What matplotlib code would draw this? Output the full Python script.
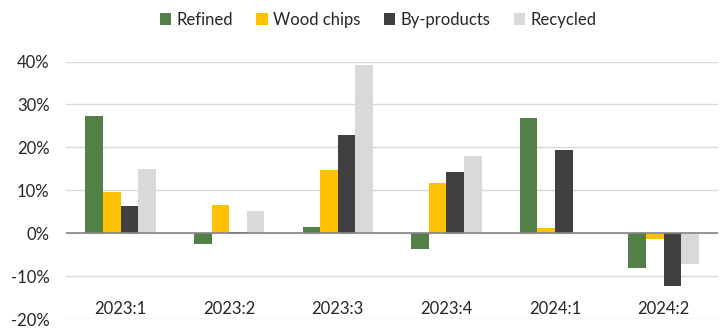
import matplotlib.pyplot as plt
import numpy as np
from matplotlib.ticker import PercentFormatter

plt.rcParams["font.family"] = ["Lato", "DejaVu Sans"]
plt.rcParams["axes.unicode_minus"] = False

quarters = ["2023:1", "2023:2", "2023:3", "2023:4", "2024:1", "2024:2"]
series_names = ["Refined", "Wood chips", "By-products", "Recycled"]

refined = [27.4, -2.6, 1.5, -3.7, 26.8, -8.0]
wood_chips = [9.5, 6.6, 14.8, 11.6, 1.2, -1.4]
by_products = [6.3, 0.4, 22.9, 14.3, 19.5, -12.3]
recycled = [15.0, 5.2, 39.1, 17.9, 0.0, -7.2]

colors = ["#538046", "#FFC000", "#404040", "#D9D9D9"]

fig = plt.figure(figsize=(7.2, 3.29), dpi=100)
ax = fig.add_axes([0.092, 0.03, 0.905, 0.783])

x = np.arange(len(quarters))
width = 0.162
all_series = [refined, wood_chips, by_products, recycled]
for i, (name, vals, col) in enumerate(zip(series_names, all_series, colors)):
    offset = (i - 1.5) * width
    ax.bar(x + offset, vals, width, color=col, label=name, zorder=3)

ax.set_ylim(-20, 40)
ax.set_xlim(-0.5, len(quarters) - 0.5)
ax.set_yticks(range(-20, 41, 10))
ax.yaxis.set_major_formatter(PercentFormatter(decimals=0))
ax.grid(axis="y", color="#D9D9D9", linewidth=1, zorder=0)
ax.axhline(0, color="#868686", linewidth=1.2, zorder=4)

for side in ["top", "right", "bottom", "left"]:
    ax.spines[side].set_visible(False)
ax.tick_params(axis="y", length=0, labelsize=12, colors="#262626", pad=12)
ax.set_xticks([])

# quarter labels rest on the bottom gridline
for xi, q in zip(x, quarters):
    ax.text(xi, -19.6, q, ha="center", va="bottom", fontsize=12, color="#262626")

fig.legend(
    loc="center",
    bbox_to_anchor=(0.525, 0.94),
    ncol=4,
    frameon=False,
    fontsize=12,
    handlelength=0.7,
    handleheight=0.7,
    handletextpad=0.3,
    columnspacing=1.4,
    labelcolor="#262626",
)

fig.savefig("out.png", dpi=100)
